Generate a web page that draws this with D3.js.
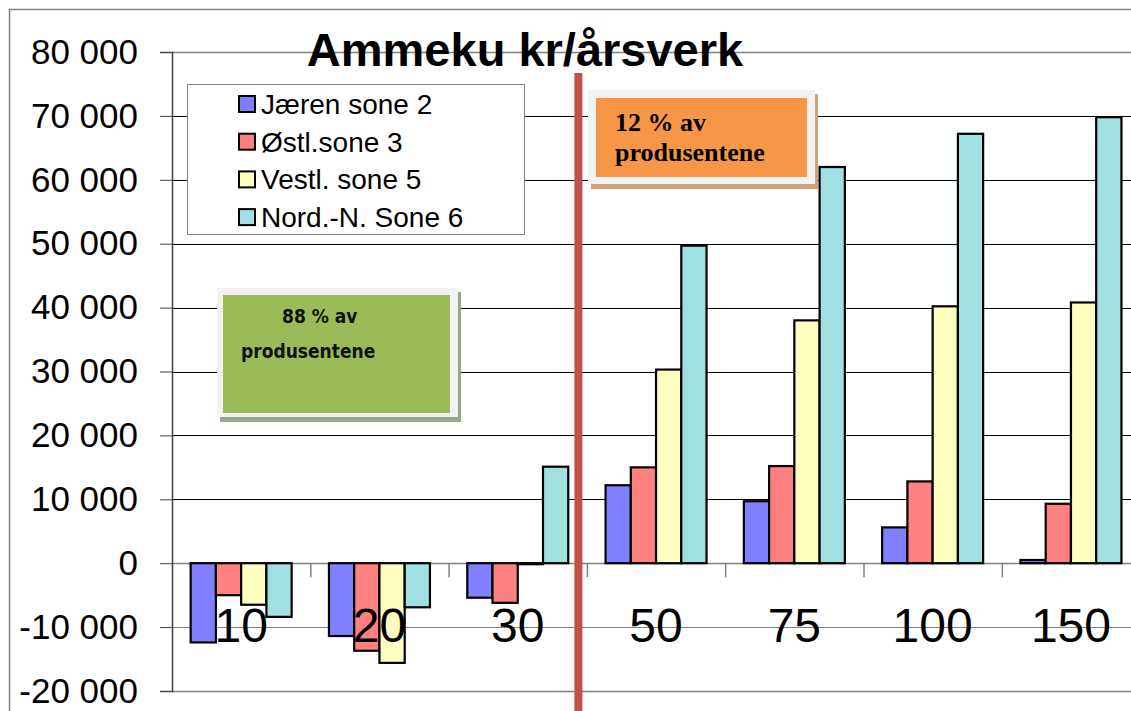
<!DOCTYPE html>
<html lang="no">
<head>
<meta charset="UTF-8">
<title>Ammeku kr/årsverk</title>
<script src="https://d3js.org/d3.v7.min.js"></script>
<style>
  body { margin: 0; background: #fff; }
  svg { display: block; }
</style>
</head>
<body>
<svg id="chart" width="1131" height="711"></svg>
<script>
// data
const categories = ["10", "20", "30", "50", "75", "100", "150"];
const seriesNames = ["Jæren sone 2", "Østl.sone 3", "Vestl. sone 5", "Nord.-N. Sone 6"];
const jaeren = [-12400, -11400, -5400, 12200, 9700, 5600, 500];
const ostl   = [-5000, -13700, -6200, 15000, 15200, 12800, 9300];
const vestl  = [-6500, -15600, 0, 30300, 38000, 40200, 40800];
const nord   = [-8400, -6900, 15100, 49700, 62000, 67200, 69800];
const yTicks = [-20000, -10000, 0, 10000, 20000, 30000, 40000, 50000, 60000, 70000, 80000];
const colors = ["#8080ff", "#ff8080", "#ffffc0", "#a0e0e0"];

const series = [jaeren, ostl, vestl, nord];

const svg = d3.select("#chart");
const plot = { left: 172, top: 52, bottom: 691, band: 138.3 };
plot.right = plot.left + plot.band * categories.length;

const nb = d3.formatLocale({ decimal: ",", thousands: " ", grouping: [3], currency: ["", ""], minus: "-" }).format(",d");

const x = d3.scaleBand().domain(categories).range([plot.left, plot.right]).padding(0);
const groupW = 101;
const xs = d3.scaleBand().domain(d3.range(series.length))
  .range([(x.bandwidth() - groupW) / 2, (x.bandwidth() + groupW) / 2]);
const y = d3.scaleLinear().domain([-20000, 80000]).range([plot.bottom, plot.top]);

// outer chart frame
svg.append("path")
  .attr("d", `M9.5,711 V9.5 H1131`)
  .attr("fill", "none").attr("stroke", "#808080").attr("stroke-width", 1.5);

// gridlines
svg.append("g").selectAll("line").data(yTicks).join("line")
  .attr("x1", plot.left).attr("x2", plot.right)
  .attr("y1", d => Math.round(y(d)) + 0.5).attr("y2", d => Math.round(y(d)) + 0.5)
  .attr("stroke", d => (d <= 0 || d === 80000) ? "#808080" : "#000")
  .attr("stroke-width", d => (d === 0 || d === -20000 || d === 80000) ? 1.5 : 1);

// y axis
const yAxis = svg.append("g")
  .attr("transform", `translate(${plot.left},0)`)
  .call(d3.axisLeft(y).tickValues(yTicks).tickFormat(nb).tickSize(12).tickPadding(22));
yAxis.select(".domain").attr("stroke", "#404040").attr("stroke-width", 1.5);
yAxis.selectAll(".tick line").attr("stroke", "#404040");
yAxis.selectAll(".tick text")
  .attr("font-family", "Liberation Sans, Arial, sans-serif")
  .attr("font-size", 35).attr("fill", "#000");

// category tick marks below zero line
svg.append("g").selectAll("line").data(categories.slice(1).concat(["end"])).join("line")
  .attr("x1", (d, i) => plot.left + x.bandwidth() * (i + 1) + 0.5)
  .attr("x2", (d, i) => plot.left + x.bandwidth() * (i + 1) + 0.5)
  .attr("y1", y(0)).attr("y2", y(0) + 14)
  .attr("stroke", "#808080").attr("stroke-width", 1.5);

// bars
const groups = svg.append("g").selectAll("g").data(categories).join("g")
  .attr("transform", d => `translate(${x(d)},0)`);
groups.selectAll("rect")
  .data((d, ci) => series.map((s, si) => ({ si, v: s[ci] })))
  .join("rect")
  .attr("x", d => xs(d.si))
  .attr("width", xs.bandwidth())
  .attr("y", d => y(Math.max(0, d.v)))
  .attr("height", d => Math.max(1, Math.abs(y(d.v) - y(0))))
  .attr("fill", d => colors[d.si])
  .attr("stroke", "#000").attr("stroke-width", 2.2);

// category labels
svg.append("g").selectAll("text").data(categories).join("text")
  .attr("x", d => x(d) + x.bandwidth() / 2)
  .attr("y", 642)
  .attr("text-anchor", "middle")
  .attr("font-family", "Liberation Sans, Arial, sans-serif")
  .attr("font-size", 48)
  .text(d => d);

// title
svg.append("text")
  .attr("x", 525).attr("y", 66)
  .attr("text-anchor", "middle")
  .attr("font-family", "Liberation Sans, Arial, sans-serif")
  .attr("font-weight", "bold").attr("font-size", 47)
  .text("Ammeku kr/årsverk");

// legend
const lg = svg.append("g").attr("transform", "translate(187,84)");
lg.append("rect").attr("x", 0.5).attr("y", 0.5).attr("width", 337).attr("height", 150)
  .attr("fill", "#fff").attr("stroke", "#808080").attr("stroke-width", 1);
const rows = lg.selectAll("g").data(seriesNames).join("g")
  .attr("transform", (d, i) => `translate(52,${20 + i * 37.7})`);
rows.append("rect").attr("x", 0).attr("y", -8).attr("width", 16).attr("height", 16)
  .attr("fill", (d, i) => colors[i]).attr("stroke", "#000").attr("stroke-width", 2);
rows.append("text").attr("x", 22).attr("y", 10)
  .attr("font-family", "Liberation Sans, Arial, sans-serif")
  .attr("font-size", 28)
  .text(d => d);

// green note box
const gb = svg.append("g");
gb.append("rect").attr("x", 220).attr("y", 292).attr("width", 241).attr("height", 130).attr("fill", "#9aa68a");
gb.append("rect").attr("x", 217).attr("y", 288).attr("width", 241).attr("height", 129).attr("fill", "#f2f2f2");
gb.append("rect").attr("x", 223).attr("y", 295).attr("width", 227).attr("height", 118).attr("fill", "#9bbb59");
gb.append("text").attr("x", 282).attr("y", 323)
  .attr("font-family", "DejaVu Sans Condensed, DejaVu Sans, sans-serif")
  .attr("font-weight", "bold").attr("font-size", 19).attr("fill", "#111")
  .text("88 % av");
gb.append("text").attr("x", 241).attr("y", 358)
  .attr("font-family", "DejaVu Sans Condensed, DejaVu Sans, sans-serif")
  .attr("font-weight", "bold").attr("font-size", 19).attr("fill", "#111")
  .text("produsentene");

// orange note box
const ob = svg.append("g");
ob.append("rect").attr("x", 591).attr("y", 94).attr("width", 227).attr("height", 95).attr("fill", "#cfa27c");
ob.append("rect").attr("x", 588).attr("y", 90).attr("width", 227).attr("height", 94).attr("fill", "#f2f2f2");
ob.append("rect").attr("x", 596).attr("y", 98).attr("width", 211).attr("height", 79).attr("fill", "#f79646");
ob.append("text").attr("x", 615).attr("y", 131)
  .attr("font-family", "Liberation Serif, Times New Roman, serif")
  .attr("font-weight", "bold").attr("font-size", 26)
  .text("12 % av");
ob.append("text").attr("x", 615).attr("y", 161)
  .attr("font-family", "Liberation Serif, Times New Roman, serif")
  .attr("font-weight", "bold").attr("font-size", 26)
  .text("produsentene");

// red divider between 30 and 50
const divX = x("50") - 8.5;
svg.append("line")
  .attr("x1", divX).attr("x2", divX)
  .attr("y1", 73).attr("y2", 711)
  .attr("stroke", "#c0504d").attr("stroke-width", 8);
</script>
</body>
</html>
